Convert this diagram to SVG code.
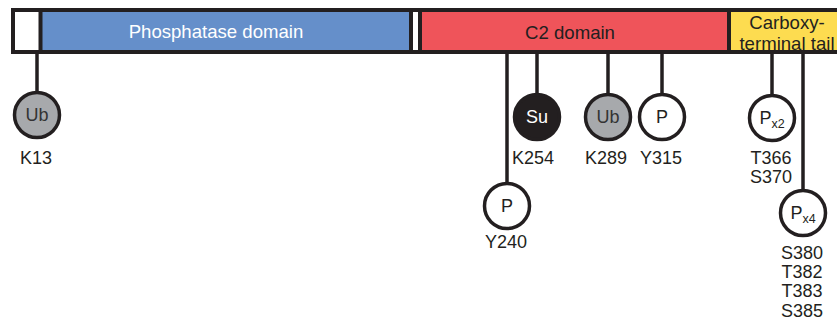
<svg xmlns="http://www.w3.org/2000/svg" width="837" height="323" viewBox="0 0 837 323">
<style>
text{font-family:"Liberation Sans",Arial,sans-serif;font-size:18px;fill:#231f20;text-anchor:middle}
.t{font-size:18.6px}
.stem{stroke:#231f20;stroke-width:3.5;fill:none}
.bd{stroke:#231f20;stroke-width:4}
.c{stroke:#231f20;stroke-width:3.5}
.w{fill:#fff}.g{fill:#a7a9ac}.k{fill:#231f20}
</style>
<rect width="837" height="323" fill="#fff"/>
<g id="connectors">
<line class="stem" x1="37" y1="53" x2="37" y2="93"/>
<line class="stem" x1="507" y1="53" x2="507" y2="184"/>
<line class="stem" x1="537" y1="53" x2="537" y2="95"/>
<line class="stem" x1="608" y1="53" x2="608" y2="95"/>
<line class="stem" x1="662" y1="53" x2="662" y2="95"/>
<line class="stem" x1="772" y1="53" x2="772" y2="96"/>
<line class="stem" x1="803" y1="53" x2="803" y2="191"/>
</g>
<g id="bar">
<rect x="13" y="10" width="28" height="42" fill="#fff"/>
<rect x="41" y="10" width="370" height="42" fill="#658fca"/>
<rect x="411" y="10" width="9" height="42" fill="#fff"/>
<rect x="420" y="10" width="309" height="42" fill="#ef545a"/>
<rect x="729" y="10" width="112" height="42" fill="#fddc50"/>
<rect class="bd" x="13" y="10" width="830" height="42" fill="none"/>
<line class="bd" x1="40.5" y1="10" x2="40.5" y2="52"/>
<line class="bd" x1="411" y1="10" x2="411" y2="52"/>
<line class="bd" x1="420" y1="10" x2="420" y2="52"/>
<line class="bd" x1="729" y1="10" x2="729" y2="52"/>
<text class="t" x="216" y="38" style="fill:#fff">Phosphatase domain</text>
<text class="t" x="570" y="39">C2 domain</text>
<text class="t" x="787" y="29">Carboxy-</text>
<text class="t" x="787" y="50">terminal tail</text>
</g>
<g id="K13">
<circle class="c g" cx="37" cy="115" r="22.5"/>
<text x="37" y="121" style="fill:#333">Ub</text>
<text x="36" y="164">K13</text>
</g>
<g id="Y240">
<circle class="c w" cx="507" cy="206" r="22.5"/>
<text x="507" y="212">P</text>
<text x="506" y="248">Y240</text>
</g>
<g id="K254">
<circle class="c k" cx="537" cy="117" r="22.5"/>
<text x="537" y="123" style="fill:#fff">Su</text>
<text x="533" y="164">K254</text>
</g>
<g id="K289">
<circle class="c g" cx="608" cy="117" r="22.5"/>
<text x="608" y="123" style="fill:#333">Ub</text>
<text x="606" y="164">K289</text>
</g>
<g id="Y315">
<circle class="c w" cx="662" cy="117" r="22.5"/>
<text x="662" y="123">P</text>
<text x="661" y="164">Y315</text>
</g>
<g id="T366_S370">
<circle class="c w" cx="772" cy="118" r="22.5"/>
<text x="772" y="124">P<tspan font-size="12.5" dy="4">x2</tspan></text>
<text x="771" y="164">T366</text>
<text x="771" y="183">S370</text>
</g>
<g id="S380_S385">
<circle class="c w" cx="803" cy="213" r="22.5"/>
<text x="803" y="219">P<tspan font-size="12.5" dy="4">x4</tspan></text>
<text x="802" y="259">S380</text>
<text x="802" y="278">T382</text>
<text x="802" y="297">T383</text>
<text x="802" y="317">S385</text>
</g>
</svg>
